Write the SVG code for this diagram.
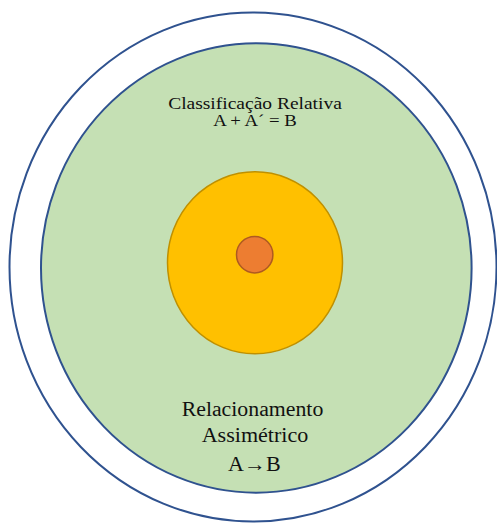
<svg xmlns="http://www.w3.org/2000/svg" width="497" height="523" viewBox="0 0 497 523">
<style>
.t{font-family:"Liberation Serif","DejaVu Serif",serif;fill:#111;text-anchor:middle}
</style>
<rect width="497" height="523" fill="#fff"/>
<g id="outer"><ellipse cx="253" cy="267" rx="243.5" ry="254.5" fill="#fff" stroke="#2F528F" stroke-width="2"/></g>
<g id="green"><ellipse cx="256.3" cy="268" rx="215.3" ry="224.7" fill="#C5E0B4" stroke="#2F528F" stroke-width="2"/>
<text class="t" x="255" y="109" font-size="16" textLength="173.7" lengthAdjust="spacingAndGlyphs">Classificação Relativa</text>
<text class="t" x="255" y="126" font-size="16" textLength="83.7" lengthAdjust="spacingAndGlyphs">A + A´ = B</text>
<text class="t" x="252.5" y="416" font-size="20" textLength="141.6" lengthAdjust="spacingAndGlyphs">Relacionamento</text>
<text class="t" x="255" y="441.7" font-size="20" textLength="106.6" lengthAdjust="spacingAndGlyphs">Assimétrico</text>
<text class="t" x="254.3" y="471" font-size="20" textLength="52.7" lengthAdjust="spacingAndGlyphs">A→B</text>
</g>
<g id="yellow"><ellipse cx="255" cy="262.8" rx="87.5" ry="91" fill="#FFC000" stroke="#BF9000" stroke-width="1.5"/></g>
<g id="orange"><circle cx="254.7" cy="254.7" r="18.2" fill="#ED7D31" stroke="#AE5A21" stroke-width="1.5"/></g>
<g id="connectors"/>
</svg>
